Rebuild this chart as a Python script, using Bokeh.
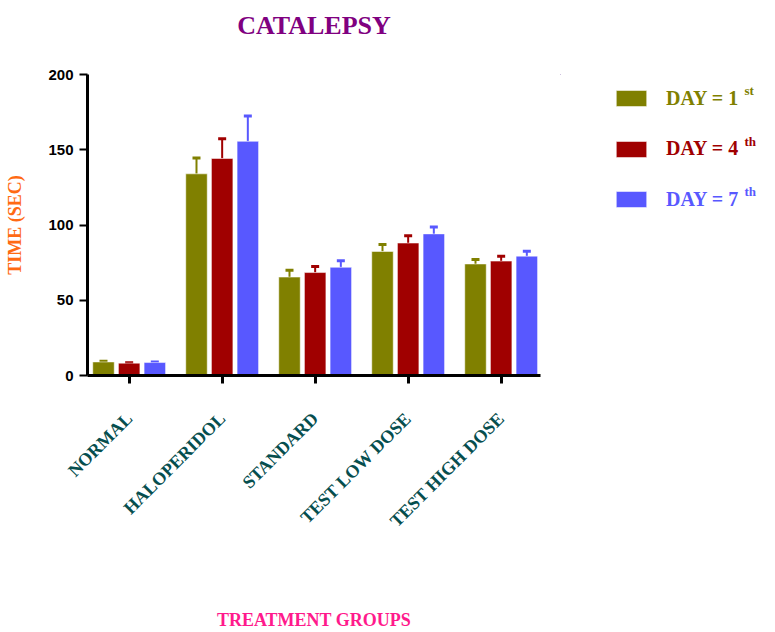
import numpy as np
from bokeh.plotting import figure
from bokeh.layouts import column, row
from bokeh.models import (ColumnDataSource, FixedTicker, Whisker, TeeHead, Legend,
                          LegendItem, Label, Range1d)
from bokeh.transform import dodge
from bokeh.embed import file_html
from bokeh.resources import INLINE

# ---------------- data ----------------
groups = ["NORMAL", "HALOPERIDOL", "STANDARD", "TEST LOW DOSE", "TEST HIGH DOSE"]
day1 = [9.0, 134.0, 65.4, 82.4, 74.1]
day4 = [8.2, 144.2, 68.4, 88.0, 76.0]
day7 = [8.6, 155.6, 71.9, 94.1, 79.3]
err1 = [0.4, 10.6, 4.5, 4.7, 3.0]
err4 = [0.3, 13.1, 4.1, 4.8, 3.3]
err7 = [0.4, 16.9, 4.3, 4.6, 3.2]
series_names = ["DAY = 1", "DAY = 4", "DAY = 7"]
superscripts = ["st", "th", "th"]
y_ticks = [0, 50, 100, 150, 200]

colors = ["#808000", "#A00000", "#5858FF"]
SERIF = "Liberation Serif"

xi = list(range(len(groups)))
src = ColumnDataSource(dict(
    x=xi,
    d1=day1, d4=day4, d7=day7,
    d1_hi=[v + e for v, e in zip(day1, err1)],
    d4_hi=[v + e for v, e in zip(day4, err4)],
    d7_hi=[v + e for v, e in zip(day7, err7)],
))

# ---------------- layout geometry (pixels) ----------------
W, H = 775, 632
TITLE_H = 44
MAIN_W = 560
LEG_W = W - MAIN_W
BODY_H = H - TITLE_H
LEFT, TOP, BOTTOM, RIGHT = 87, 74 - TITLE_H, 252, 20
frame_w = MAIN_W - LEFT - RIGHT
x_start = -0.448
px_per_unit = 93.0


def blank(width, height, xr=(0, 1), yr=(0, 1)):
    f = figure(width=width, height=height, output_backend="svg", toolbar_location=None,
               title=None,
               x_range=Range1d(*xr), y_range=Range1d(*yr),
               x_axis_location=None, y_axis_location=None,
               min_border_left=0, min_border_right=0, min_border_top=0, min_border_bottom=0)
    f.outline_line_color = None
    f.xgrid.visible = False
    f.ygrid.visible = False
    return f


# ---------------- title strip ----------------
t = blank(W, TITLE_H)
t.add_layout(Label(x=LEFT + frame_w / 2, y=TITLE_H - 24.7, x_units="screen", y_units="screen",
                   text="CATALEPSY", text_align="center", text_baseline="middle",
                   text_font=SERIF, text_font_style="bold", text_font_size="26px",
                   text_color="#800080"))

# ---------------- main chart ----------------
p = figure(width=MAIN_W, height=BODY_H, output_backend="svg", toolbar_location=None,
           x_range=Range1d(x_start, x_start + frame_w / px_per_unit),
           y_range=Range1d(0, 200),
           min_border_left=LEFT, min_border_right=RIGHT, min_border_top=TOP,
           min_border_bottom=BOTTOM)
p.outline_line_color = None
p.xgrid.visible = False
p.ygrid.visible = False

keys = ["d1", "d4", "d7"]
offsets = [-0.276, 0.0, 0.276]
for k, off, c in zip(keys, offsets, colors):
    p.vbar(x=dodge("x", off), top=k, width=0.231, source=src,
           fill_color=c, line_color="white", line_alpha=0.5, line_width=1)
    p.add_layout(Whisker(source=src, base=dodge("x", off), lower=k, upper=k + "_hi",
                         line_color=c, line_width=2, lower_head=None,
                         upper_head=TeeHead(size=8, line_color=c, line_width=3)))

xa = p.xaxis[0]
xa.ticker = FixedTicker(ticks=xi)
xa.major_label_overrides = {i: g for i, g in zip(xi, groups)}
xa.major_label_orientation = np.pi / 4
xa.major_label_text_font = SERIF
xa.major_label_text_font_style = "bold"
xa.major_label_text_font_size = "18px"
xa.major_label_text_color = "#064E4E"
xa.major_label_standoff = 32
xa.axis_line_width = 3
xa.major_tick_line_width = 3
xa.major_tick_in = 0
xa.major_tick_out = 8
xa.minor_tick_line_color = None
xa.axis_label = "TREATMENT GROUPS"
xa.axis_label_text_font = SERIF
xa.axis_label_text_font_style = "bold"
xa.axis_label_text_font_size = "18px"
xa.axis_label_text_color = "#FF1A8C"
xa.axis_label_standoff = 69

ya = p.yaxis[0]
ya.ticker = FixedTicker(ticks=y_ticks)
ya.major_label_text_font = "Liberation Sans"
ya.major_label_text_font_style = "bold"
ya.major_label_text_font_size = "15px"
ya.major_label_text_color = "black"
ya.major_label_standoff = 6
ya.axis_line_width = 3
ya.major_tick_line_width = 2
ya.major_tick_in = 0
ya.major_tick_out = 8
ya.minor_tick_line_color = None
ya.axis_label = "TIME (SEC)"
ya.axis_label_text_font = SERIF
ya.axis_label_text_font_style = "bold"
ya.axis_label_text_font_size = "18px"
ya.axis_label_text_color = "#FF6A13"
ya.axis_label_standoff = 20

# ---------------- legend panel (its frame lines up with the chart frame) ----------------
# the ranges keep the series' bars out of view here: only their legend swatches show
lf = blank(LEG_W, BODY_H, xr=(10, 11), yr=(-2, -1))
for i, (k, name, sup, c) in enumerate(zip(keys, series_names, superscripts, colors)):
    swatch = lf.vbar(x="x", top=k, width=0.1, source=src,
                     fill_color=c, line_color="white", line_alpha=0.5, line_width=1)
    lf.add_layout(Legend(items=[LegendItem(label=name, renderers=[swatch])],
                         location=(52, 262 - i * 50.5),
                         padding=0, margin=0, spacing=0,
                         border_line_color=None, background_fill_alpha=0,
                         glyph_width=38, glyph_height=20, label_height=30,
                         label_standoff=16,
                         label_text_font=SERIF, label_text_font_style="bold",
                         label_text_font_size="20px", label_text_color=c,
                         label_text_baseline="middle"))
    lf.add_layout(Label(x=184, y=284.7 - i * 50.5, x_units="screen", y_units="screen",
                        text=sup, text_font=SERIF, text_font_style="bold",
                        text_baseline="middle",
                        text_font_size="13px", text_color=c))

layout = column(t, row(p, lf))
open("out.html", "w").write(file_html(layout, INLINE))
